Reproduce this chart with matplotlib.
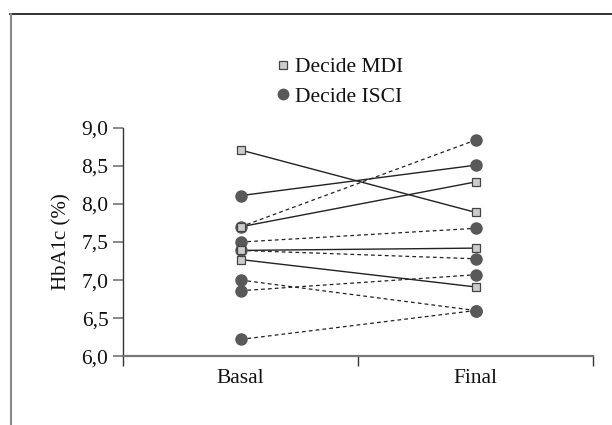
import matplotlib.pyplot as plt
from matplotlib.lines import Line2D

plt.rcParams['font.family'] = ['Liberation Serif', 'DejaVu Serif']

# Time points on the x axis
timepoints = ['Basal', 'Final']

# Decide MDI patients (squares, solid lines)
mdi_basal = [8.71, 7.70, 7.39, 7.27]
mdi_final = [7.89, 8.29, 7.42, 6.91]

# Decide ISCI patients (circles)
isci_basal = [8.11, 7.70, 7.50, 7.39, 7.00, 6.86, 6.22]
isci_final = [8.51, 8.84, 7.68, 7.28, 6.60, 7.07, 6.60]
isci_styles = ['-', '--', '--', '--', '--', '--', '--']

yticks = [6.0, 6.5, 7.0, 7.5, 8.0, 8.5, 9.0]

fig = plt.figure(figsize=(6.12, 4.25), dpi=100)
ax = fig.add_axes([0.201, 0.162, 0.768, 0.537])

xpos = [i + 0.5 for i in range(len(timepoints))]
dash = (0, (3, 2.5))

# connecting lines
for b, f in zip(mdi_basal, mdi_final):
    ax.plot(xpos, [b, f], color='#222222', lw=1.0, zorder=2)
for b, f, s in zip(isci_basal, isci_final, isci_styles):
    ax.plot(xpos, [b, f], color='#222222', lw=1.0 if s == '-' else 0.9,
            linestyle='-' if s == '-' else dash, zorder=2)

# markers
for vals, x in zip([isci_basal, isci_final], xpos):
    ax.plot([x] * len(vals), vals, 'o', ms=9, color='#595959', mec='none', zorder=3)
for vals, x in zip([mdi_basal, mdi_final], xpos):
    ax.plot([x] * len(vals), vals, 's', ms=6, mfc='#cccccc', mec='#444444',
            mew=0.9, zorder=4)

ax.set_xlim(0, 2)
ax.set_ylim(6, 9)
ax.set_yticks(yticks)
ax.set_yticklabels([f'{v:.1f}'.replace('.', ',') for v in yticks])
ax.set_xticks([0, 1, 2])
ax.set_xticklabels([])
ax.set_xticks(xpos, minor=True)
ax.set_xticklabels(timepoints, minor=True)
ax.tick_params(axis='x', which='minor', length=0, pad=9, labelsize=15.5, labelcolor='#111111')
ax.tick_params(axis='x', which='major', length=7.5, width=1.0, color='#333333', direction='out')
ax.tick_params(axis='y', length=7.5, width=1.2, color='#777777', labelsize=15.5,
               labelcolor='#111111', pad=3)

ax.spines['top'].set_visible(False)
ax.spines['right'].set_visible(False)
ax.spines['left'].set_color('#333333')
ax.spines['left'].set_linewidth(1.0)
ax.spines['bottom'].set_color('#777777')
ax.spines['bottom'].set_linewidth(1.6)

ax.set_ylabel('HbA1c (%)', fontsize=15, labelpad=7, color='#111111')

handles = [
    Line2D([], [], marker='s', ls='none', ms=5.5, mfc='#cccccc', mec='#444444', mew=0.9),
    Line2D([], [], marker='o', ls='none', ms=8.5, color='#595959', mec='none'),
]
fig.legend(handles, ['Decide MDI', 'Decide ISCI'], loc='center left',
           bbox_to_anchor=(0.434, 0.807), frameon=False, fontsize=15.5,
           labelcolor='#111111', handlelength=0.6, handletextpad=0.25,
           labelspacing=0.45, borderpad=0)

# outer frame (top and left edges only)
fig.add_artist(Line2D([0.016, 1.0], [0.967, 0.967], transform=fig.transFigure,
                      color='#222222', lw=1.3))
fig.add_artist(Line2D([0.018, 0.018], [0.0, 0.967], transform=fig.transFigure,
                      color='#888888', lw=1.5))

fig.savefig('out.png', dpi=100)
